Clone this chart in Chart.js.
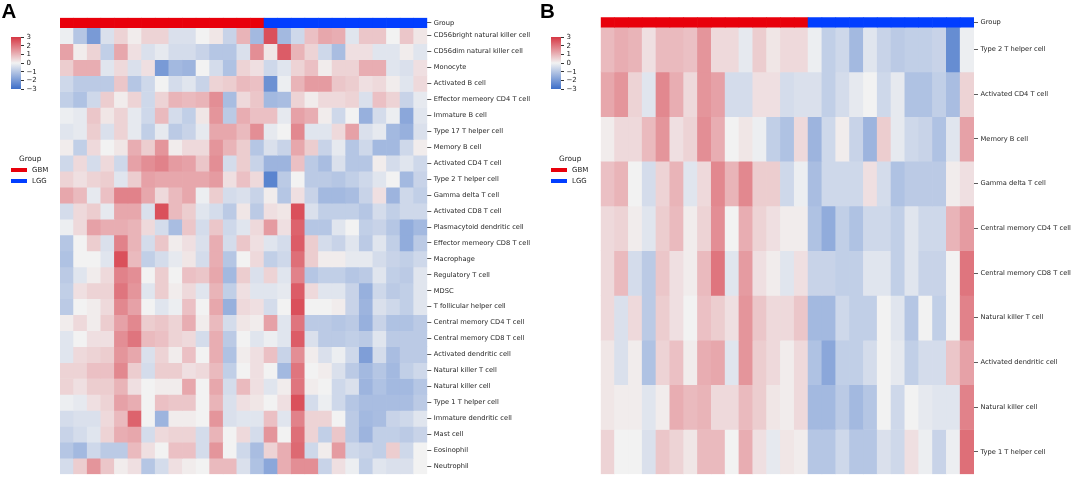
<!DOCTYPE html>
<html><head><meta charset="utf-8">
<script src="https://cdn.jsdelivr.net/npm/chart.js@4"></script>
<style>
html,body{margin:0;padding:0;background:#fff}
body{width:1072px;height:480px;overflow:hidden;position:relative;font-family:"DejaVu Sans",sans-serif;color:#222}
canvas{position:absolute;top:0}
.letter{position:absolute;font-family:"Liberation Sans",Arial,sans-serif;font-weight:bold;font-size:20.5px;line-height:20.5px;color:#000}
.cbar{position:absolute;width:10px;height:52px;background:linear-gradient(to bottom,rgb(214,55,68),rgb(242,242,242),rgb(60,110,200))}
.ctick{position:absolute;width:3px;height:0;border-top:0.8px solid #333}
.clab{position:absolute;font-size:7px;line-height:8px;white-space:nowrap}
.gtitle{position:absolute;font-size:7.4px;line-height:8px;white-space:nowrap}
.gpatch{position:absolute;width:16px;height:4.3px}
.glab{position:absolute;font-size:7px;line-height:8px;white-space:nowrap}
</style></head>
<body>
<canvas id="cA" width="540" height="480" style="left:0"></canvas>
<canvas id="cB" width="532" height="480" style="left:540px"></canvas>
<div class="letter" style="left:1.5px;top:1.3px">A</div>
<div class="letter" style="left:540px;top:1.3px">B</div>
<div id="legends"></div>
<script>
// ---------------- data ----------------
const sampleIds = ['GBM01','GBM02','GBM03','GBM04','GBM05','GBM06','GBM07','GBM08','GBM09','GBM10','GBM11','GBM12','GBM13','GBM14','GBM15',
                   'LGG01','LGG02','LGG03','LGG04','LGG05','LGG06','LGG07','LGG08','LGG09','LGG10','LGG11','LGG12'];
const sampleGroups = ['GBM','GBM','GBM','GBM','GBM','GBM','GBM','GBM','GBM','GBM','GBM','GBM','GBM','GBM','GBM',
                      'LGG','LGG','LGG','LGG','LGG','LGG','LGG','LGG','LGG','LGG','LGG','LGG'];
const groupNames = ['GBM','LGG'];
const colorbarTicks = [3,2,1,0,-1,-2,-3];

const cellsA = ['CD56bright natural killer cell','CD56dim natural killer cell','Monocyte','Activated B cell',
  'Effector memeory CD4 T cell','Immature B cell','Type 17 T helper cell','Memory B cell','Activated CD4 T cell',
  'Type 2 T helper cell','Gamma delta T cell','Activated CD8 T cell','Plasmacytoid dendritic cell',
  'Effector memeory CD8 T cell','Macrophage','Regulatory T cell','MDSC','T follicular helper cell',
  'Central memory CD4 T cell','Central memory CD8 T cell','Activated dendritic cell','Natural killer T cell',
  'Natural killer cell','Type 1 T helper cell','Immature dendritic cell','Mast cell','Eosinophil','Neutrophil'];

const a01 = [-0.1,-1.0,-2.0,-0.4,0.5,0.1,0.5,0.5,-0.4,-0.4,0.0,0.2,-0.7,1.0,-1.3,2.6,-1.3,-0.6,0.8,1.2,1.1,-0.3,0.7,0.7,0.0,0.7,0.2];
const a02 = [1.3,0.1,0.5,-0.8,1.2,0.3,-0.4,-0.2,-0.5,-0.5,-0.7,-1.0,-1.0,-0.4,1.6,0.2,2.4,1.0,0.5,-0.6,-1.2,0.3,0.3,-0.3,-0.3,0.1,-0.3];
const a03 = [0.6,1.1,1.1,-0.3,0.4,-0.4,0.3,-2.0,-1.3,-1.4,0.0,-0.5,-1.1,0.5,0.3,-0.6,-0.3,0.5,0.8,0.1,0.5,0.5,1.1,1.1,-0.3,-0.4,0.3];
const a04 = [-0.6,-0.9,-0.9,-0.9,0.7,-1.0,-0.6,0.0,-0.5,-0.3,-0.7,0.5,0.6,0.9,0.8,-2.2,-0.1,1.0,1.4,1.4,0.7,0.6,0.3,0.4,0.1,-0.3,0.4];
const a05 = [-0.8,-1.1,-0.6,0.6,0.1,0.5,-0.6,0.5,1.0,0.9,1.0,1.6,-1.2,0.4,0.7,-1.3,-1.2,0.5,0.1,0.4,0.4,0.5,-0.4,0.8,0.5,-0.7,-0.2];
const a06 = [-0.1,-0.2,0.7,0.2,0.5,-0.2,-0.6,0.9,-0.5,-0.8,0.2,1.5,-0.9,1.1,0.8,0.8,-0.2,1.3,1.1,0.1,-0.6,0.0,-1.5,-0.5,-0.1,-1.7,-0.3];
const a07 = [-0.3,-0.2,0.6,-0.4,0.5,-0.2,-0.8,-0.2,-0.9,-0.7,-0.2,1.2,1.2,0.9,1.6,-0.2,0.0,1.7,-0.3,-0.3,0.4,1.3,-0.4,-0.2,-1.3,-1.5,-0.4];
const a08 = [0.1,-0.8,0.4,0.0,0.2,1.1,0.6,1.5,0.1,0.4,0.4,1.5,1.0,0.6,-1.0,-0.4,-0.7,1.2,0.6,-0.7,-0.2,-1.0,-0.6,-1.3,-1.3,-0.6,0.1];
const a09 = [-0.6,0.4,-0.5,0.4,-0.6,1.3,1.6,1.8,1.4,1.3,0.7,1.6,-0.5,0.6,-0.7,-1.4,-1.4,0.8,-0.9,-1.2,-0.4,-1.0,-1.0,0.1,-0.5,-0.3,-0.6];
const a10 = [0.5,0.3,0.5,0.6,-0.3,0.6,1.3,1.2,1.2,1.2,1.2,1.4,0.3,0.8,0.4,-2.5,-0.9,0.0,-0.9,-0.9,-1.0,-0.8,-0.6,-0.3,0.0,-1.3,-0.7];
const a11 = [1.2,0.9,-0.2,0.8,1.8,1.8,1.2,0.4,0.9,1.2,-0.1,0.6,-0.5,-0.4,-0.7,0.1,-1.0,0.3,-0.7,-1.3,-1.3,-1.2,-0.7,0.3,-1.4,-0.6,-0.8];
const a12 = [-0.5,0.4,0.6,-0.2,1.2,1.2,-0.4,2.6,0.9,0.6,-0.3,-0.5,-0.9,0.2,-0.9,0.3,0.2,2.6,-0.4,-0.8,-0.8,-0.8,-1.0,-0.5,-0.8,-0.6,-0.6];
const a13 = [-0.1,0.4,1.3,1.1,1.1,1.0,0.4,-0.5,-1.2,0.7,-0.5,0.7,-0.6,-0.3,0.4,1.4,0.3,2.3,-1.0,-1.0,-0.3,0.0,-0.8,-0.7,-1.0,-1.6,-1.3];
const a14 = [-1.0,0.0,0.6,-0.4,1.8,1.0,-0.5,0.7,0.1,0.3,-0.4,1.1,-0.5,0.7,0.3,-0.3,-0.5,2.4,0.6,-0.5,-0.7,-0.3,-0.9,-0.3,-0.8,-1.6,-0.9];
const a15 = [-1.1,0.0,0.0,-0.3,2.6,0.9,-0.8,-0.5,-0.2,0.2,-0.5,1.1,-1.0,0.0,0.4,-0.8,-0.6,2.1,0.6,0.1,0.1,-0.2,-0.2,-0.5,-0.7,-0.8,-0.6];
const a16 = [-0.9,-0.3,0.1,0.4,1.8,1.6,0.0,0.6,0.0,0.8,0.7,1.2,-1.3,0.6,-0.4,0.5,-0.3,1.8,-1.0,-0.8,-0.8,-1.0,-0.9,-0.3,-0.8,-0.9,-0.3];
const a17 = [-0.8,0.3,0.5,0.5,2.0,1.5,-0.3,0.6,0.1,0.4,-0.3,1.0,-0.8,0.3,-0.3,-0.3,-0.2,2.4,0.4,-0.3,-0.3,-0.7,-1.5,-0.6,-0.9,-0.8,-0.3];
const a18 = [-0.9,0.0,0.1,0.4,1.7,1.3,0.0,-0.3,-0.1,0.8,0.0,1.2,-1.5,0.4,0.3,-0.5,0.0,2.6,0.0,0.0,0.1,-0.7,-1.4,-0.4,-0.6,-0.8,-0.3];
const a19 = [0.1,0.4,0.1,0.6,1.3,1.7,0.6,0.7,0.5,1.1,0.1,0.9,-0.5,0.2,0.1,1.3,-0.3,2.0,-0.9,-0.9,-1.0,-0.9,-1.5,-0.7,-1.1,-1.1,-0.9];
const a20 = [-0.3,0.0,0.3,0.3,1.6,2.0,0.9,0.8,0.5,0.4,-0.5,1.1,-0.9,0.0,-0.3,-0.1,-0.3,2.4,-0.4,-0.9,-0.9,-0.8,-0.9,-0.3,-0.9,-0.9,-0.9];
const a21 = [-0.3,0.4,0.5,0.6,1.5,1.2,-0.4,0.5,0.1,0.8,0.0,1.1,-1.1,0.1,0.3,0.8,-0.7,1.6,0.1,-0.4,-0.1,-0.6,-1.9,-0.5,-1.2,-0.9,-0.9];
const a22 = [0.5,0.5,0.8,0.8,1.7,0.6,-0.5,0.6,0.6,0.3,0.4,0.9,-0.8,0.0,0.3,0.0,-1.3,2.0,0.0,0.1,-0.4,-0.9,-1.3,-1.0,-1.3,-0.8,-0.6];
const a23 = [0.5,0.3,0.6,0.6,1.0,0.3,0.0,0.1,0.1,1.2,0.0,1.2,-0.5,0.9,0.3,-0.3,0.1,2.0,0.1,0.0,-0.6,-0.4,-1.4,-1.1,-1.3,-1.3,-1.0];
const a24 = [-0.1,-0.2,0.3,0.5,1.3,1.1,0.0,0.8,0.7,0.7,0.0,1.0,-0.4,0.3,0.2,0.0,0.3,2.6,-0.5,-0.1,-0.6,-1.0,-1.2,-1.2,-1.2,-1.2,-0.9];
const a25 = [-0.5,-0.4,-0.4,0.4,0.9,2.3,0.0,-1.4,0.1,0.1,0.0,1.5,-0.4,-0.3,-0.3,0.8,-0.3,1.8,0.5,0.5,0.0,-0.9,-1.3,-1.2,-0.7,-0.6,-0.3];
const a26 = [-0.7,-0.5,-0.3,0.5,1.1,1.2,-0.5,0.4,0.5,0.5,-0.5,1.0,0.0,0.4,-0.5,1.5,0.0,2.1,0.5,-0.8,0.7,-0.9,-1.4,-0.8,-0.8,-0.9,-0.7];
const a27 = [-1.0,-1.3,-0.6,-0.9,-0.9,0.9,0.3,0.0,0.8,0.8,-0.5,1.5,0.0,-0.6,-1.2,0.5,1.1,2.2,-0.6,0.1,1.4,-0.6,-0.7,-0.8,0.6,-0.6,0.0];
const a28 = [-0.5,0.6,1.5,0.7,0.1,0.3,-1.0,-0.5,0.3,0.1,0.0,0.9,0.9,-0.4,-1.1,-1.7,1.1,1.6,1.6,-0.7,0.3,-0.1,-0.8,-0.3,-0.4,-0.4,0.0];

const cellsB = ['Type 2 T helper cell','Activated CD4 T cell','Memory B cell','Gamma delta T cell',
  'Central memory CD4 T cell','Central memory CD8 T cell','Natural killer T cell','Activated dendritic cell',
  'Natural killer cell','Type 1 T helper cell'];

const b01 = [0.9,1.1,1.0,0.3,0.9,0.9,0.8,1.5,0.4,0.4,-0.2,0.6,0.2,0.4,0.4,-0.1,-0.8,-0.6,-1.3,-0.3,-0.7,-0.9,-0.8,-0.8,-0.7,-2.3,-0.1];
const b02 = [1.2,1.5,0.5,-0.3,1.7,1.1,0.4,1.5,1.3,-0.5,-0.5,0.3,0.3,-0.5,-0.4,-0.4,-0.8,-0.5,-0.2,0.0,-0.6,-0.2,-1.1,-1.1,-0.8,-1.2,0.5];
const b03 = [0.1,0.4,0.4,0.9,1.5,0.3,0.5,1.6,1.1,0.0,0.2,-0.1,-0.8,-1.1,0.4,-1.4,-0.6,0.1,-0.7,-1.4,0.6,-0.2,-0.6,-0.7,-1.1,-0.3,1.3];
const b04 = [0.8,1.0,0.0,-0.5,0.5,1.0,-0.3,0.4,1.7,1.0,1.7,0.6,0.6,-0.6,-0.1,-1.2,-0.6,-0.6,-0.6,0.3,-0.5,-1.1,-0.9,-0.9,-0.9,0.1,0.3];
const b05 = [0.4,0.5,0.1,-0.3,0.6,0.9,0.1,0.5,1.6,0.0,1.1,0.5,0.3,0.1,0.1,-1.1,-1.6,-0.8,-1.1,-0.6,-0.6,-0.8,-0.3,-0.6,-0.6,1.0,1.4];
const b06 = [0.4,0.9,-0.5,-0.9,0.7,0.3,0.1,0.9,2.0,-0.3,1.4,0.3,0.1,-0.3,0.3,-0.7,-0.7,-0.8,-0.8,-0.3,-0.3,-0.8,-0.3,-0.7,-0.7,0.0,2.0];
const b07 = [0.4,-0.4,0.4,-0.9,0.6,0.3,0.0,0.8,0.6,0.3,1.5,0.7,0.4,0.4,0.7,-1.3,-1.3,-0.6,-0.8,-0.8,0.0,-0.3,-1.0,0.0,-0.8,0.0,1.8];
const b08 = [0.2,-0.4,0.1,-1.1,0.5,0.8,0.1,1.1,1.2,-0.3,1.5,0.6,0.4,0.1,0.4,-1.1,-1.7,-0.8,-0.8,-0.5,0.0,-0.2,-0.8,-0.5,-0.5,0.7,1.3];
const b09 = [0.2,0.1,0.1,-0.3,0.1,1.1,0.9,1.0,0.4,0.4,0.9,0.6,0.2,0.1,0.4,-1.3,-1.3,-0.9,-1.3,-1.0,0.0,-0.6,0.0,-0.2,-0.3,-0.3,1.8];
const b10 = [0.5,0.0,0.0,-0.4,0.7,0.5,0.2,0.9,0.9,0.0,1.1,0.3,-0.2,0.2,0.1,-1.0,-1.0,-0.6,-1.0,-1.0,-0.4,-0.6,0.3,-0.1,-0.7,-0.1,2.1];

const valuesA = [a01,a02,a03,a04,a05,a06,a07,a08,a09,a10,a11,a12,a13,a14,a15,a16,a17,a18,a19,a20,a21,a22,a23,a24,a25,a26,a27,a28];
const valuesB = [b01,b02,b03,b04,b05,b06,b07,b08,b09,b10];

// ---------------- styling ----------------
const groupColors = {GBM:'#E8000B', LGG:'#023EFF'};
const cMid=[242,242,242], cPos=[214,55,68], cNeg=[60,110,200];
function cellColor(v){
  const t=Math.max(-3,Math.min(3,v))/3, end=t>=0?cPos:cNeg, a=Math.abs(t);
  return 'rgb('+cMid.map((m,i)=>Math.round(m+(end[i]-m)*a)).join(',')+')';
}

function heatmap(id, rowNames, rowValues, cfg){
  const gh = cfg.groupH;
  const datasets=[{data: sampleGroups.map(()=>[-gh,0]), backgroundColor: sampleGroups.map(g=>groupColors[g])}];
  rowValues.forEach((vals,k)=>datasets.push({data: vals.map(()=>[k,k+1]), backgroundColor: vals.map(cellColor)}));
  const tickLabels=['Group'].concat(rowNames);
  new Chart(document.getElementById(id),{
    type:'bar',
    data:{labels:sampleIds, datasets},
    options:{
      responsive:false, animation:false, events:[], devicePixelRatio:1,
      layout:{padding:{left:cfg.left, top:cfg.top, bottom:cfg.bottom, right:0}},
      plugins:{legend:{display:false}, tooltip:{enabled:false}},
      datasets:{bar:{grouped:false, barPercentage:1, categoryPercentage:1, borderWidth:0}},
      scales:{
        x:{display:false},
        y:{position:'right', reverse:true, min:-gh, max:rowNames.length,
          afterBuildTicks:s=>{ s.ticks=[{value:-gh/2}].concat(rowNames.map((_,k)=>({value:k+0.5}))); },
          afterFit:s=>{ s.width=cfg.axisW; },
          ticks:{autoSkip:false, padding:2.5, color:'#262626', font:{family:'DejaVu Sans', size:6.7, lineHeight:1},
                 callback:(v,i)=>tickLabels[i]},
          grid:{drawOnChartArea:false, drawTicks:true, tickLength:4, color:'#333', lineWidth:0.8},
          border:{display:false}
        }
      }
    }
  });
}

heatmap('cA', cellsA, valuesA, {left:60, top:17.8, bottom:3.6, axisW:112.7, groupH:10/16.02});
heatmap('cB', cellsB, valuesB, {left:60.7, top:17.3, bottom:1.7, axisW:98, groupH:10/45.1});

// ---------------- colorbars & group legends ----------------
const leg=document.getElementById('legends');
function addLegend(ox){
  let h='';
  h+=`<div class="cbar" style="left:${ox+11}px;top:37px"></div>`;
  colorbarTicks.forEach((t,i)=>{
    const y=37+i*52/6;
    h+=`<div class="ctick" style="left:${ox+21}px;top:${y-0.4}px"></div>`;
    h+=`<div class="clab" style="left:${ox+26.5}px;top:${y-4}px">${t<0?'\u2212'+(-t):t}</div>`;
  });
  h+=`<div class="gtitle" style="left:${ox+19}px;top:155px">Group</div>`;
  groupNames.forEach((g,i)=>{
    const y=168.2+i*11;
    h+=`<div class="gpatch" style="left:${ox+11}px;top:${y}px;background:${groupColors[g]}"></div>`;
    h+=`<div class="glab" style="left:${ox+32}px;top:${y-1.8}px">${g}</div>`;
  });
  leg.insertAdjacentHTML('beforeend',h);
}
addLegend(0); addLegend(540);
</script>
</body></html>
